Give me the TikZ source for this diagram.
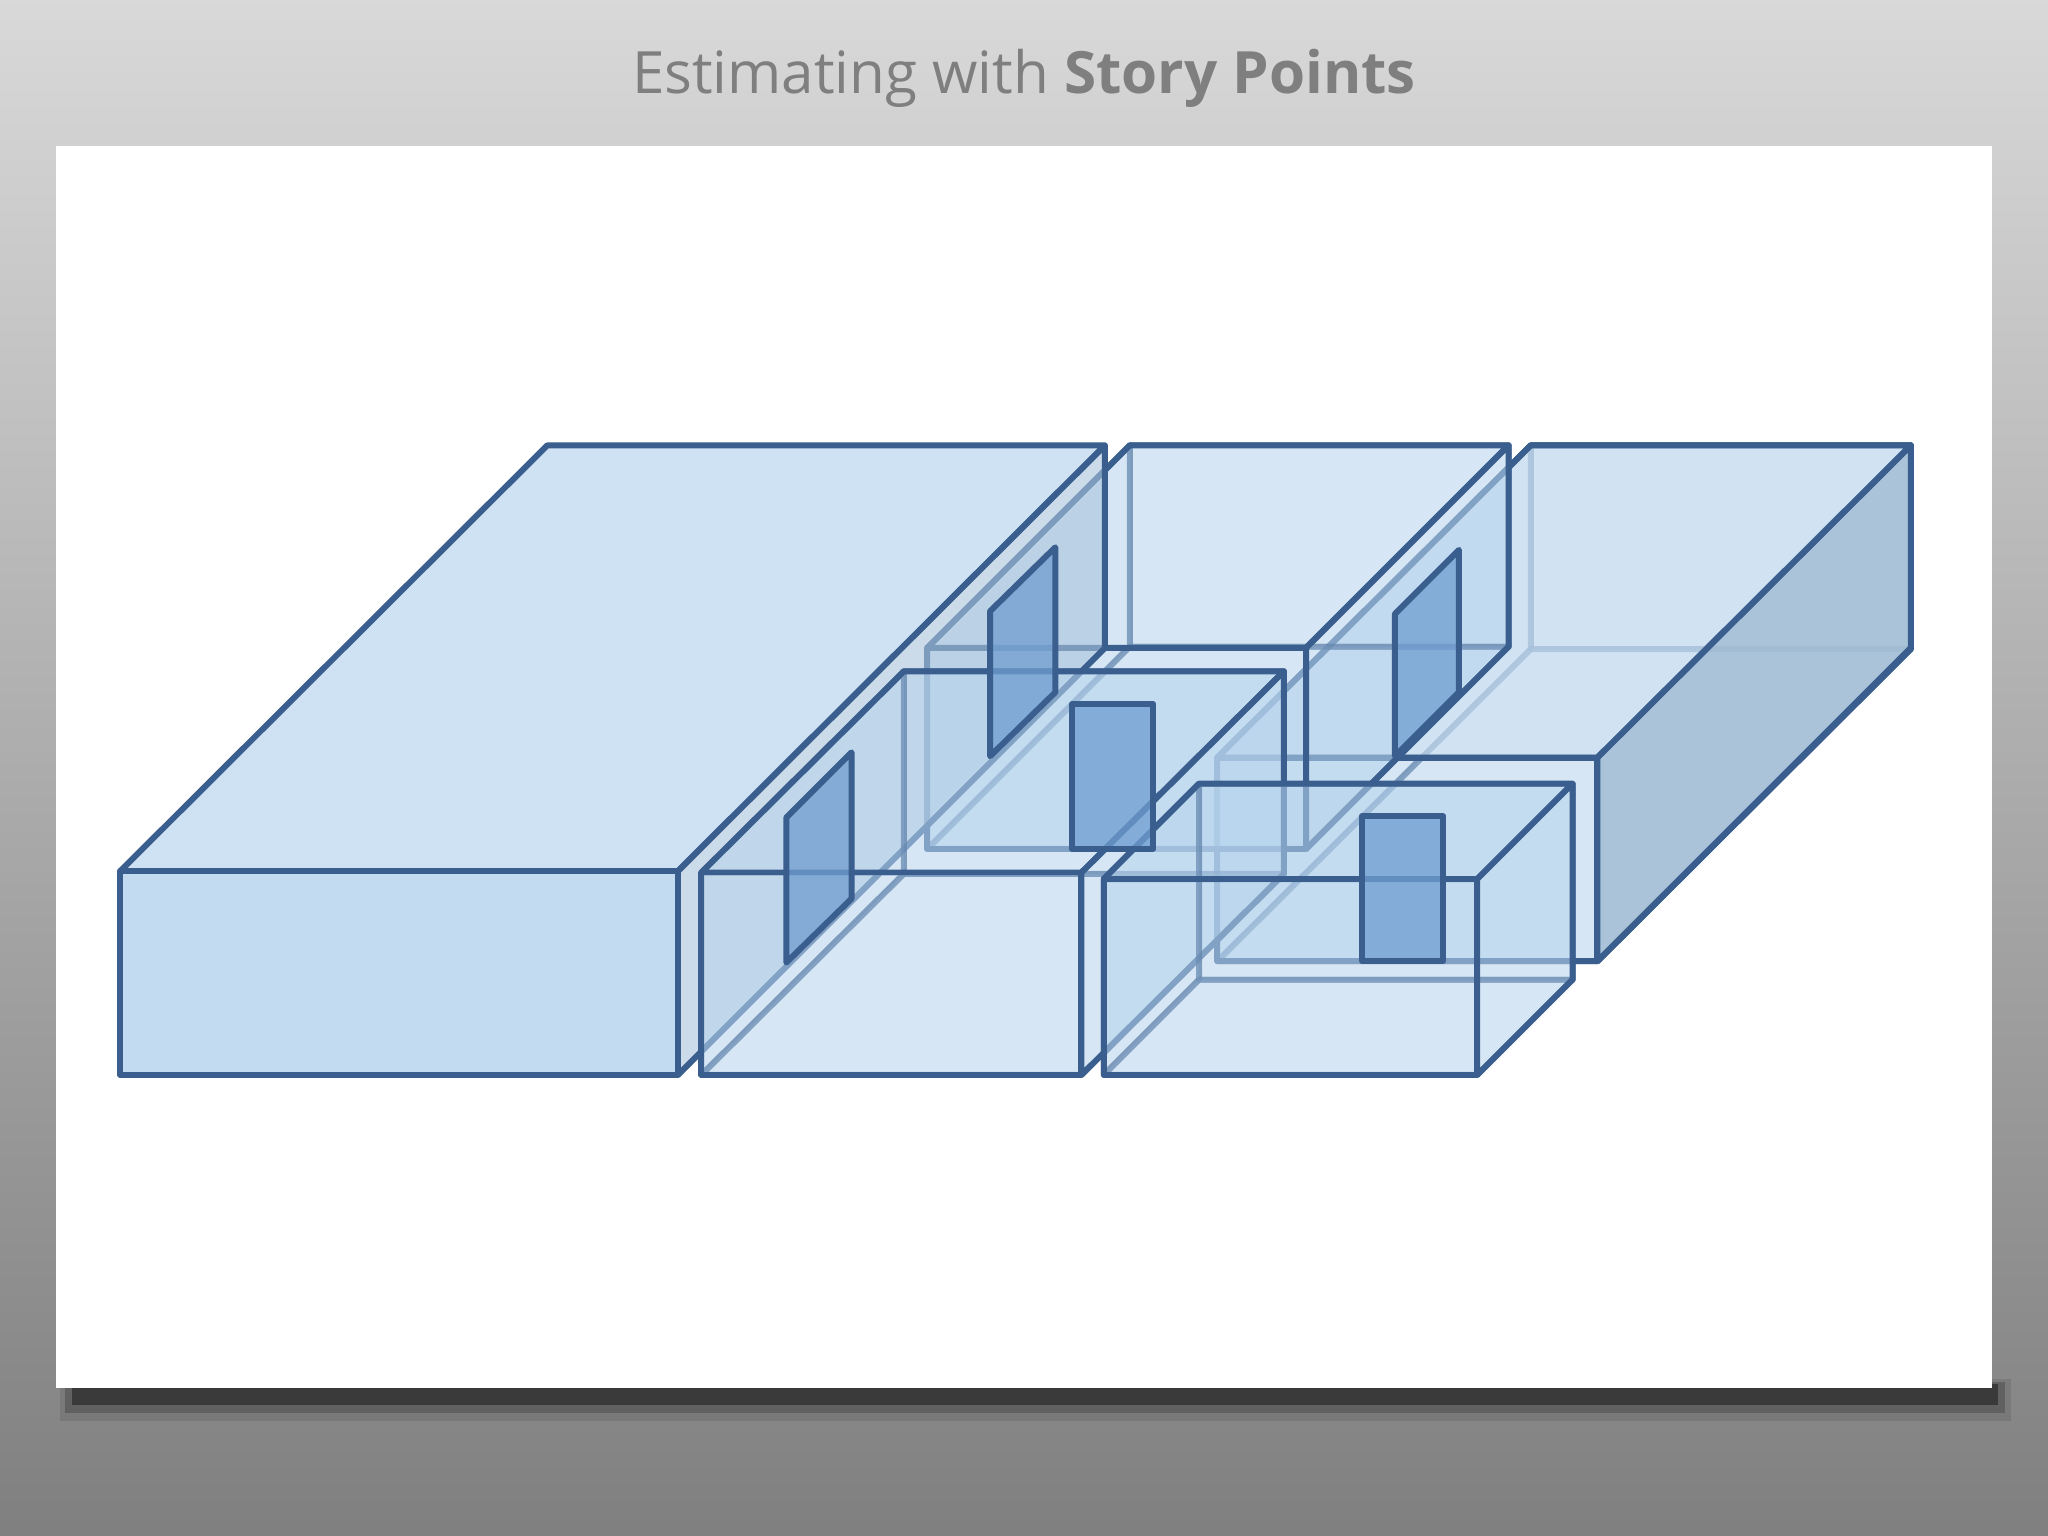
\documentclass[tikz,border=0pt]{standalone}
\usepackage{fontspec}
\setmainfont{Open Sans}
\definecolor{edge}{HTML}{3A5F8F}
\definecolor{bf}{HTML}{B9D5EE}
\definecolor{door}{HTML}{6F9DD0}
\definecolor{ttl}{HTML}{7F7F7F}
\tikzset{
 face/.style={fill=bf, fill opacity=0.35, draw=edge, draw opacity=1, line width=1.3pt, line join=round},
 hface/.style={face, draw opacity=0.55},
 doorf/.style={fill=door, fill opacity=0.75, draw=edge, draw opacity=1, line width=1.3pt, line join=round}
}
\newcommand\tbox[6]{%
 \path[hface] (#1+#5,#2+#6) rectangle ++(#3,#4);
 \path[hface] (#1,#2) -- ++(#5,#6) -- ++(0,#4) -- ++(-#5,-#6) -- cycle;
 \path[hface] (#1,#2+#4) -- ++(#5,#6) -- ++(#3,0) -- ++(-#5,-#6) -- cycle;
 \path[face] (#1,#2) -- ++(#5,#6) -- ++(#3,0) -- ++(-#5,-#6) -- cycle;
 \path[face] (#1+#3,#2) -- ++(#5,#6) -- ++(0,#4) -- ++(-#5,-#6) -- cycle;
 \path[face] (#1,#2) rectangle ++(#3,#4);
}
\begin{document}
\begin{tikzpicture}[x=0.01cm,y=-0.01cm]
\useasboundingbox (0,0) rectangle (1568,1176);
\shade[top color=black!15, middle color=black!22, bottom color=black!50] (0,0) rectangle (1568,1176);
\fill[black, opacity=0.1] (46,1056) rectangle (1540,1088);
\fill[black, opacity=0.2] (50,1058) rectangle (1535,1082);
\fill[black, opacity=0.4] (55,1060) rectangle (1530,1076);
\fill[white] (43,112) rectangle (1525,1063);
\node[text=ttl, font=\fontsize{12.7}{15}\selectfont] (title) at (784,60) {Estimating with \textbf{Story Points}};
% back boxes
\tbox{932}{580}{291}{156}{240}{-239}
\path[face, fill=black!10!bf, fill opacity=0.9] (1223,580) -- (1463,341) -- (1463,496) -- (1223,736) -- cycle;
\path[face, fill=bf!70!white, fill opacity=0.6] (932,580) -- (1172,341) -- (1463,341) -- (1223,580) -- cycle;
\tbox{710}{496}{290}{154}{155}{-155}
% big box
\path[face, fill=bf!70!white, fill opacity=1] (92,667) -- (419,341) -- (846,341) -- (519,667) -- cycle;
\path[face, fill=black!8!bf, fill opacity=0.6] (519,667) -- (846,341) -- (846,496) -- (519,823) -- cycle;
\path[face, fill=bf!85!white, fill opacity=1] (92,667) rectangle (519,823);
% front boxes
\tbox{537}{668}{291}{155}{155}{-154}
\tbox{845}{673}{286}{150}{73}{-73}
% doors
\path[doorf] (1068,470) -- (1117,421) -- (1117,530) -- (1068,579) -- cycle;
\path[doorf] (758,468) -- (808,419) -- (808,530) -- (758,579) -- cycle;
\path[doorf] (602,626) -- (652,576) -- (652,688) -- (602,737) -- cycle;
\path[doorf] (821,539) rectangle (883,650);
\path[doorf] (1043,625) rectangle (1105,736);
\end{tikzpicture}
\end{document}
